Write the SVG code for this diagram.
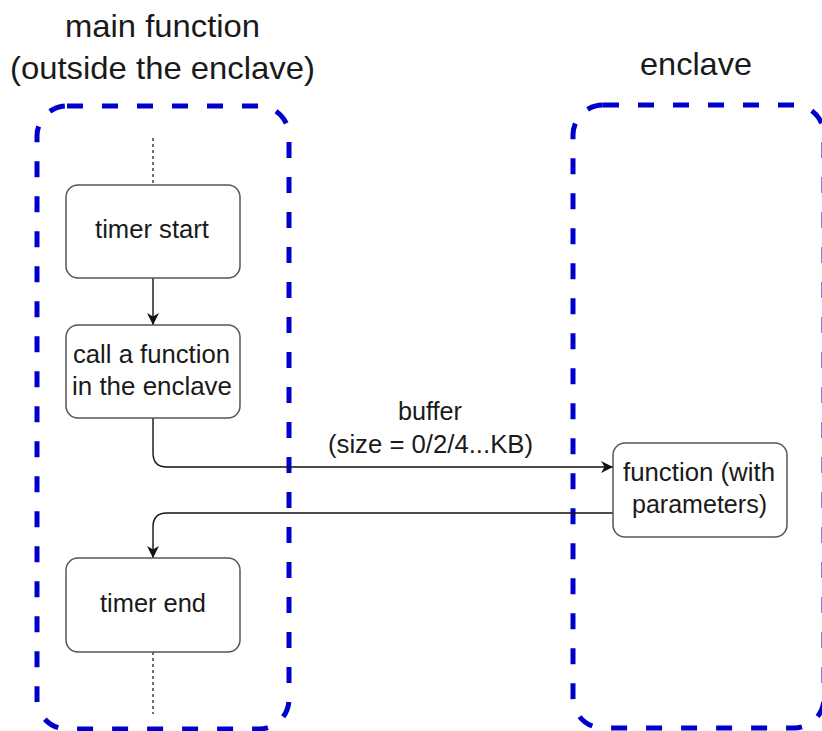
<svg xmlns="http://www.w3.org/2000/svg" width="822" height="731" viewBox="0 0 822 731">
<style>
  .container { fill: none; stroke: #0000cc; stroke-width: 5; stroke-dasharray: 16 19; }
  .node { fill: #ffffff; stroke: #555555; stroke-width: 1.5; }
  .title { font-family: "Liberation Sans", Arial, sans-serif; font-size: 32px; fill: #1a1a1a; text-anchor: middle; }
  .label { font-family: "Liberation Sans", Arial, sans-serif; font-size: 25px; fill: #1a1a1a; text-anchor: middle; }
  .edge { fill: none; stroke: #111111; stroke-width: 1.4; }
  .dotted { fill: none; stroke: #111111; stroke-width: 1.2; stroke-dasharray: 3 3; }
</style>
<defs>
  <marker id="arrow" viewBox="0 0 10 10" refX="10" refY="5" markerWidth="12" markerHeight="12" markerUnits="userSpaceOnUse" orient="auto">
    <path d="M0,0 L10,5 L0,10 L3,5 Z" fill="#111111"/>
  </marker>
</defs>
<rect width="822" height="731" fill="#ffffff"/>

<g id="container-main">
  <rect class="container" x="37" y="106" width="252" height="623" rx="30" ry="30"/>
  <text class="title" x="162.5" y="37" textLength="195" lengthAdjust="spacingAndGlyphs">main function</text>
  <text class="title" x="162.5" y="79" textLength="305" lengthAdjust="spacingAndGlyphs">(outside the enclave)</text>
</g>

<g id="container-enclave">
  <rect class="container" x="573" y="105" width="251" height="623" rx="30" ry="30"/>
  <text class="title" x="696" y="75" textLength="112" lengthAdjust="spacingAndGlyphs">enclave</text>
</g>

<g id="connectors">
  <line class="dotted" x1="153" y1="138" x2="153" y2="185"/>
  <line class="dotted" x1="153" y1="652" x2="153" y2="714"/>
  <line class="edge" x1="153" y1="278" x2="153" y2="325" marker-end="url(#arrow)"/>
  <path class="edge" d="M153,418 V453 Q153,467 167,467 H613" marker-end="url(#arrow)"/>
  <path class="edge" d="M613,513 H167 Q153,513 153,527 V558" marker-end="url(#arrow)"/>
  <text class="label" x="430" y="420" textLength="64" lengthAdjust="spacingAndGlyphs">buffer</text>
  <text class="label" x="430.5" y="453" textLength="205" lengthAdjust="spacingAndGlyphs">(size = 0/2/4...KB)</text>
</g>

<g id="node-timer-start">
  <rect class="node" x="66" y="185" width="174" height="93" rx="12" ry="12"/>
  <text class="label" x="152" y="238" textLength="114" lengthAdjust="spacingAndGlyphs">timer start</text>
</g>

<g id="node-call">
  <rect class="node" x="66" y="325" width="174" height="93" rx="12" ry="12"/>
  <text class="label" x="151.5" y="363" textLength="157" lengthAdjust="spacingAndGlyphs">call a function</text>
  <text class="label" x="152" y="395" textLength="160" lengthAdjust="spacingAndGlyphs">in the enclave</text>
</g>

<g id="node-timer-end">
  <rect class="node" x="66" y="558" width="174" height="94" rx="12" ry="12"/>
  <text class="label" x="153" y="612" textLength="106" lengthAdjust="spacingAndGlyphs">timer end</text>
</g>

<g id="node-function">
  <rect class="node" x="613" y="443" width="174" height="94" rx="12" ry="12"/>
  <text class="label" x="699" y="481" textLength="152" lengthAdjust="spacingAndGlyphs">function (with</text>
  <text class="label" x="699.5" y="513" textLength="135" lengthAdjust="spacingAndGlyphs">parameters)</text>
</g>
</svg>
